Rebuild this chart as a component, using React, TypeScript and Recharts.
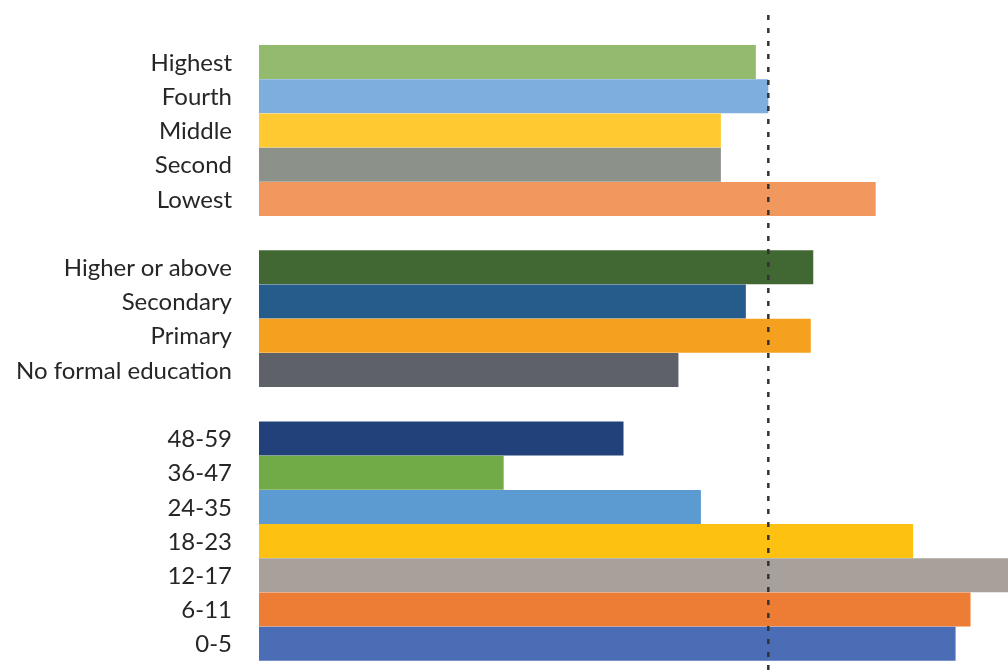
import React from 'react';
import {
  BarChart,
  Bar,
  Cell,
  XAxis,
  YAxis,
  ReferenceLine
} from 'recharts';

// category labels, top to bottom ('' and ' ' are the spacer rows between groups)
const labels = [
  'Highest',
  'Fourth',
  'Middle',
  'Second',
  'Lowest',
  '',
  'Higher or above',
  'Secondary',
  'Primary',
  'No formal education',
  ' ',
  '48-59',
  '36-47',
  '24-35',
  '18-23',
  '12-17',
  '6-11',
  '0-5'
];

const values = [
  19.9, 20.4, 18.5, 18.5, 24.7,
  0,
  22.2, 19.5, 22.1, 16.8,
  0,
  14.6, 9.8, 17.7, 26.2, 30.5, 28.5, 27.9
];

const colors = [
  '#92bb6d', '#7daedd', '#ffca31', '#8c918a', '#f0985e',
  '#ffffff',
  '#416832', '#265c8c', '#f6a01f', '#5f6169',
  '#ffffff',
  '#22417b', '#71ab48', '#5b9bd1', '#fdc112', '#a8a19b', '#ed7d34', '#4a6db5'
];

const nationalAverage = 20.4;

const data = labels.map((label, i) => ({ label, value: values[i] }));

const App: React.FC = () => (
  // fixed so the chart can run to the window edge without making the page scroll
  <div style={{ position: 'fixed', left: 8, top: 8, width: 1000, height: 662 }}>
    <BarChart
      width={1000}
      height={662}
      data={data}
      layout="vertical"
      barCategoryGap={0}
      margin={{ top: 6, right: 0, bottom: 0, left: 0 }}
    >
      <XAxis type="number" domain={[0, 30]} allowDataOverflow hide />
      <YAxis
        type="category"
        dataKey="label"
        width={251}
        interval={0}
        axisLine={false}
        tickLine={false}
        tickSize={0}
        tickMargin={27}
        padding={{ top: 31, bottom: 9 }}
        tick={{ fill: '#262626', fontSize: 24, fontFamily: 'Lato' }}
      />
      <Bar dataKey="value" isAnimationActive={false}>
        {data.map((d, i) => (
          <Cell key={i} fill={colors[i]} />
        ))}
      </Bar>
      <ReferenceLine
        x={nationalAverage}
        stroke="#333333"
        strokeWidth={2.5}
        strokeDasharray="5 8"
      />
    </BarChart>
  </div>
);

export default App;
